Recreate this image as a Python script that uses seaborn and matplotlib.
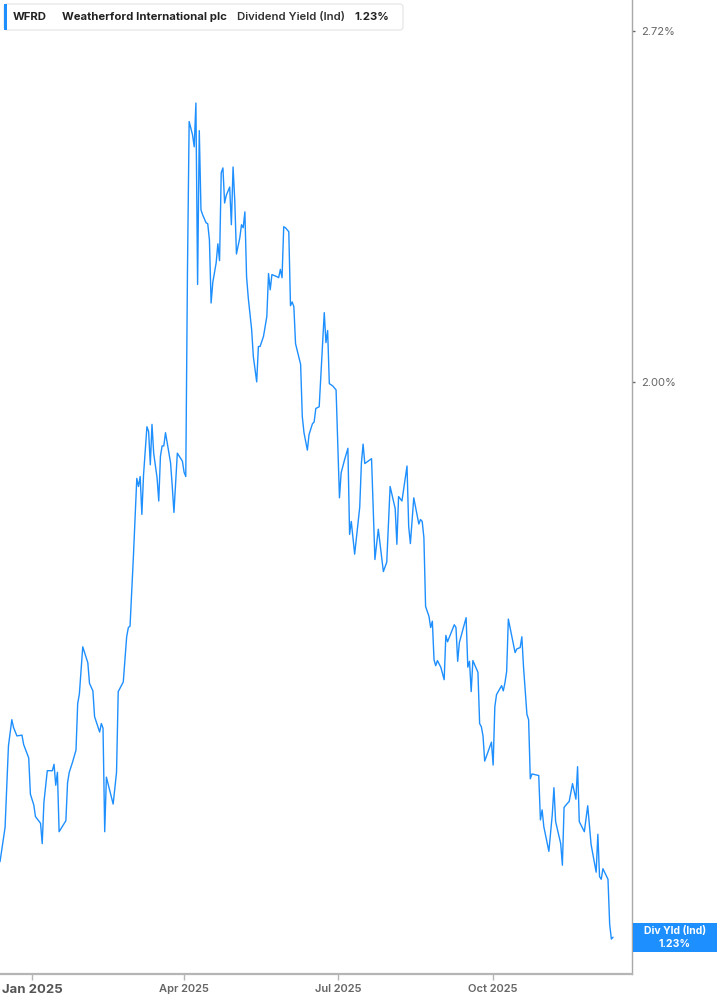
import matplotlib
matplotlib.use("Agg")
import matplotlib.pyplot as plt
from matplotlib.patches import Rectangle, FancyBboxPatch
from matplotlib.ticker import FixedLocator, NullLocator, NullFormatter, FixedFormatter
from matplotlib.transforms import IdentityTransform
import seaborn as sns
import pandas as pd

# ---------------- data ----------------
dates = [
    "2024-12-13", "2024-12-16", "2024-12-17", "2024-12-18", "2024-12-20", "2024-12-21", "2024-12-23",
    "2024-12-26", "2024-12-27", "2024-12-30", "2024-12-31", "2025-01-02", "2025-01-03", "2025-01-06",
    "2025-01-07", "2025-01-08", "2025-01-10", "2025-01-13", "2025-01-14", "2025-01-15", "2025-01-16",
    "2025-01-17", "2025-01-21", "2025-01-22", "2025-01-23", "2025-01-25", "2025-01-27", "2025-01-28",
    "2025-01-29", "2025-01-31", "2025-02-03", "2025-02-04", "2025-02-06", "2025-02-07", "2025-02-10",
    "2025-02-11", "2025-02-12", "2025-02-13", "2025-02-14", "2025-02-18", "2025-02-20", "2025-02-21",
    "2025-02-24", "2025-02-26", "2025-02-27", "2025-02-28", "2025-03-02", "2025-03-04", "2025-03-05",
    "2025-03-06", "2025-03-07", "2025-03-08", "2025-03-10", "2025-03-11", "2025-03-12", "2025-03-13",
    "2025-03-14", "2025-03-16", "2025-03-17", "2025-03-18", "2025-03-19", "2025-03-20", "2025-03-21",
    "2025-03-24", "2025-03-25", "2025-03-26", "2025-03-28", "2025-03-31", "2025-04-01", "2025-04-02",
    "2025-04-03", "2025-04-04", "2025-04-06", "2025-04-07", "2025-04-08", "2025-04-09", "2025-04-10",
    "2025-04-11", "2025-04-12", "2025-04-14", "2025-04-15", "2025-04-16", "2025-04-17", "2025-04-18",
    "2025-04-20", "2025-04-21", "2025-04-22", "2025-04-23", "2025-04-24", "2025-04-25", "2025-04-26",
    "2025-04-28", "2025-04-29", "2025-04-30", "2025-05-01", "2025-05-02", "2025-05-04", "2025-05-05",
    "2025-05-06", "2025-05-07", "2025-05-08", "2025-05-09", "2025-05-11", "2025-05-12", "2025-05-14",
    "2025-05-15", "2025-05-16", "2025-05-18", "2025-05-19", "2025-05-20", "2025-05-21", "2025-05-22",
    "2025-05-23", "2025-05-26", "2025-05-27", "2025-05-28", "2025-05-29", "2025-05-30", "2025-05-31",
    "2025-06-02", "2025-06-03", "2025-06-04", "2025-06-05", "2025-06-06", "2025-06-09", "2025-06-10",
    "2025-06-11", "2025-06-13", "2025-06-14", "2025-06-16", "2025-06-17", "2025-06-18", "2025-06-20",
    "2025-06-23", "2025-06-24", "2025-06-25", "2025-06-26", "2025-06-28", "2025-06-30", "2025-07-02",
    "2025-07-03", "2025-07-05", "2025-07-07", "2025-07-08", "2025-07-09", "2025-07-11", "2025-07-14",
    "2025-07-15", "2025-07-16", "2025-07-17", "2025-07-19", "2025-07-21", "2025-07-23", "2025-07-25",
    "2025-07-28", "2025-07-30", "2025-08-01", "2025-08-04", "2025-08-05", "2025-08-06", "2025-08-08",
    "2025-08-11", "2025-08-12", "2025-08-13", "2025-08-15", "2025-08-18", "2025-08-19", "2025-08-20",
    "2025-08-21", "2025-08-22", "2025-08-24", "2025-08-25", "2025-08-26", "2025-08-27", "2025-08-28",
    "2025-08-29", "2025-08-31", "2025-09-02", "2025-09-03", "2025-09-04", "2025-09-06", "2025-09-08",
    "2025-09-09", "2025-09-10", "2025-09-11", "2025-09-15", "2025-09-16", "2025-09-17", "2025-09-18",
    "2025-09-19", "2025-09-22", "2025-09-23", "2025-09-24", "2025-09-25", "2025-09-26", "2025-09-30",
    "2025-10-01", "2025-10-02", "2025-10-03", "2025-10-06", "2025-10-07", "2025-10-08", "2025-10-09",
    "2025-10-10", "2025-10-14", "2025-10-15", "2025-10-17", "2025-10-18", "2025-10-19", "2025-10-21",
    "2025-10-22", "2025-10-23", "2025-10-24", "2025-10-28", "2025-10-29", "2025-10-30", "2025-10-31",
    "2025-11-03", "2025-11-05", "2025-11-06", "2025-11-07", "2025-11-10", "2025-11-11", "2025-11-12",
    "2025-11-14", "2025-11-15", "2025-11-17", "2025-11-19", "2025-11-20", "2025-11-21", "2025-11-24",
    "2025-11-26", "2025-11-28", "2025-12-01", "2025-12-02", "2025-12-03", "2025-12-04", "2025-12-05",
    "2025-12-08", "2025-12-09", "2025-12-10", "2025-12-11",
]

div_yield = [
    1.314, 1.354, 1.404, 1.454, 1.488, 1.478, 1.467,
    1.468, 1.456, 1.439, 1.394, 1.381, 1.367, 1.359,
    1.335, 1.384, 1.423, 1.423, 1.431, 1.405, 1.421,
    1.349, 1.362, 1.408, 1.421, 1.434, 1.449, 1.509,
    1.522, 1.586, 1.564, 1.536, 1.526, 1.492, 1.472,
    1.483, 1.477, 1.349, 1.415, 1.382, 1.421, 1.525,
    1.538, 1.600, 1.613, 1.615, 1.717, 1.838, 1.825,
    1.841, 1.781, 1.844, 1.923, 1.915, 1.860, 1.927,
    1.879, 1.839, 1.802, 1.874, 1.891, 1.891, 1.913,
    1.863, 1.825, 1.784, 1.879, 1.866, 1.848, 1.841,
    2.203, 2.512, 2.483, 2.457, 2.553, 2.178, 2.492,
    2.325, 2.315, 2.299, 2.297, 2.265, 2.143, 2.182,
    2.220, 2.257, 2.224, 2.402, 2.412, 2.339, 2.355,
    2.372, 2.295, 2.414, 2.345, 2.237, 2.269, 2.295,
    2.289, 2.321, 2.193, 2.153, 2.094, 2.045, 2.000,
    2.063, 2.063, 2.081, 2.099, 2.118, 2.199, 2.168,
    2.197, 2.193, 2.191, 2.207, 2.191, 2.291, 2.289,
    2.281, 2.138, 2.145, 2.136, 2.068, 2.031, 1.940,
    1.913, 1.884, 1.910, 1.928, 1.931, 1.954, 1.957,
    2.125, 2.070, 2.092, 1.997, 1.993, 1.986, 1.807,
    1.847, 1.868, 1.887, 1.750, 1.770, 1.720, 1.792,
    1.863, 1.894, 1.862, 1.866, 1.870, 1.712, 1.758,
    1.694, 1.708, 1.825, 1.790, 1.735, 1.809, 1.802,
    1.858, 1.762, 1.736, 1.807, 1.766, 1.773, 1.770,
    1.745, 1.643, 1.629, 1.613, 1.622, 1.568, 1.560,
    1.567, 1.558, 1.541, 1.602, 1.593, 1.605, 1.617,
    1.613, 1.566, 1.592, 1.627, 1.558, 1.566, 1.525,
    1.567, 1.551, 1.483, 1.479, 1.467, 1.435, 1.459,
    1.430, 1.505, 1.521, 1.533, 1.526, 1.537, 1.552,
    1.625, 1.578, 1.583, 1.585, 1.600, 1.558, 1.495,
    1.488, 1.413, 1.419, 1.417, 1.363, 1.375, 1.355,
    1.326, 1.369, 1.402, 1.361, 1.335, 1.310, 1.378,
    1.383, 1.385, 1.407, 1.388, 1.428, 1.361, 1.349,
    1.380, 1.334, 1.302, 1.346, 1.297, 1.294, 1.306,
    1.294, 1.244, 1.228, 1.230,
]

x_tick_dates = ["2025-01-01", "2025-04-01", "2025-07-01", "2025-10-01"]
x_tick_labels = ["Jan 2025", "Apr 2025", "Jul 2025", "Oct 2025"]
y_tick_values = [2.00, 2.72]
y_tick_labels = ["2.00%", "2.72%"]

ticker_name = "WFRD"
company_name = "Weatherford International plc"
metric_name = "Dividend Yield (Ind)"
last_value_text = "1.23%"
box_label = "Div Yld (Ind)"

# ---------------- style ----------------
BLUE = "#1e8fff"
sns.set_theme(style="white")
plt.rcParams["font.family"] = ["Inter", "DejaVu Sans"]

W, H = 717, 1005
fig = plt.figure(figsize=(W / 100, H / 100), dpi=100)
fig.patch.set_facecolor("white")
bottom_px = 31
right_px = 632.3
ax = fig.add_axes([0, bottom_px / H, right_px / W, 1 - bottom_px / H])
ax.set_facecolor("white")

df = pd.DataFrame({"date": pd.to_datetime(dates), "value": div_yield})
sns.lineplot(data=df, x="date", y="value", ax=ax, color=BLUE, linewidth=1.0)

ax.set_yscale("log")
ax.set_ylim(1.191, 2.794)
jan1 = pd.Timestamp("2025-01-01")
ax.set_xlim(jan1 - pd.Timedelta(days=19.0), jan1 + pd.Timedelta(days=355.4))

# spines
for s in ["top", "left"]:
    ax.spines[s].set_visible(False)
ax.spines["right"].set_color("#a8a8a8")
ax.spines["right"].set_linewidth(1.0)
ax.spines["bottom"].set_color("#b5b5b5")
ax.spines["bottom"].set_linewidth(1.6)

# y axis on the right
ax.yaxis.tick_right()
ax.yaxis.set_major_locator(FixedLocator(y_tick_values))
ax.yaxis.set_major_formatter(FixedFormatter(y_tick_labels))
ax.yaxis.set_minor_locator(NullLocator())
ax.yaxis.set_minor_formatter(NullFormatter())
ax.tick_params(axis="y", which="major", direction="out", length=2.5, width=1,
               color="#666666", labelsize=8, labelcolor="#666666", pad=4,
               right=True, left=False, labelright=True, labelleft=False)

# x axis
ax.set_xticks(pd.to_datetime(x_tick_dates))
ax.set_xticklabels(x_tick_labels)
ax.tick_params(axis="x", direction="out", length=4, width=1, color="#b5b5b5",
               labelsize=8, labelcolor="#666666", pad=3.5, bottom=True)
for i, lab in enumerate(ax.get_xticklabels()):
    if i == 0:
        lab.set_fontweight("bold")
        lab.set_fontsize(9.5)
        lab.set_color("#555555")
    else:
        lab.set_fontweight("semibold")
ax.set_xlabel("")
ax.set_ylabel("")
ax.grid(False)

# ---------------- header box ----------------
ident = IdentityTransform()
hdr = FancyBboxPatch((4, H - 30), 399, 26, boxstyle="round,pad=0,rounding_size=3",
                     transform=ident, facecolor="white", edgecolor="#e4e4e4",
                     linewidth=0.8, zorder=5)
fig.patches.append(hdr)
fig.patches.append(Rectangle((4, H - 30), 3, 26, transform=ident,
                             facecolor=BLUE, edgecolor="none", zorder=6))
ty = H - 17
hfs = 8.2
fig.text(13, ty, ticker_name, transform=ident, fontsize=hfs, fontweight="bold",
         color="#222222", va="center", ha="left", zorder=7)
fig.text(62, ty, company_name, transform=ident, fontsize=hfs, fontweight="bold",
         color="#222222", va="center", ha="left", zorder=7)
fig.text(237, ty, metric_name, transform=ident, fontsize=hfs, fontweight="semibold",
         color="#333333", va="center", ha="left", zorder=7)
fig.text(354, ty, last_value_text, transform=ident, fontsize=hfs, fontweight="bold",
         color="#222222", va="center", ha="left", zorder=7)

# ---------------- last value box ----------------
y_last = ax.transData.transform((ax.get_xlim()[0], div_yield[-1]))[1]
box_h = 29
fig.patches.append(Rectangle((right_px + 0.5, y_last - box_h / 2), W - right_px, box_h,
                             transform=ident, facecolor=BLUE, edgecolor="none", zorder=5))
cx = (right_px + W) / 2
fig.text(cx, y_last + 6.5, box_label, transform=ident, fontsize=7.5, fontweight="bold",
         color="white", va="center", ha="center", zorder=7)
fig.text(cx, y_last - 6.5, last_value_text, transform=ident, fontsize=7.5, fontweight="bold",
         color="white", va="center", ha="center", zorder=7)

fig.savefig("out.png", dpi=100, facecolor="white")
